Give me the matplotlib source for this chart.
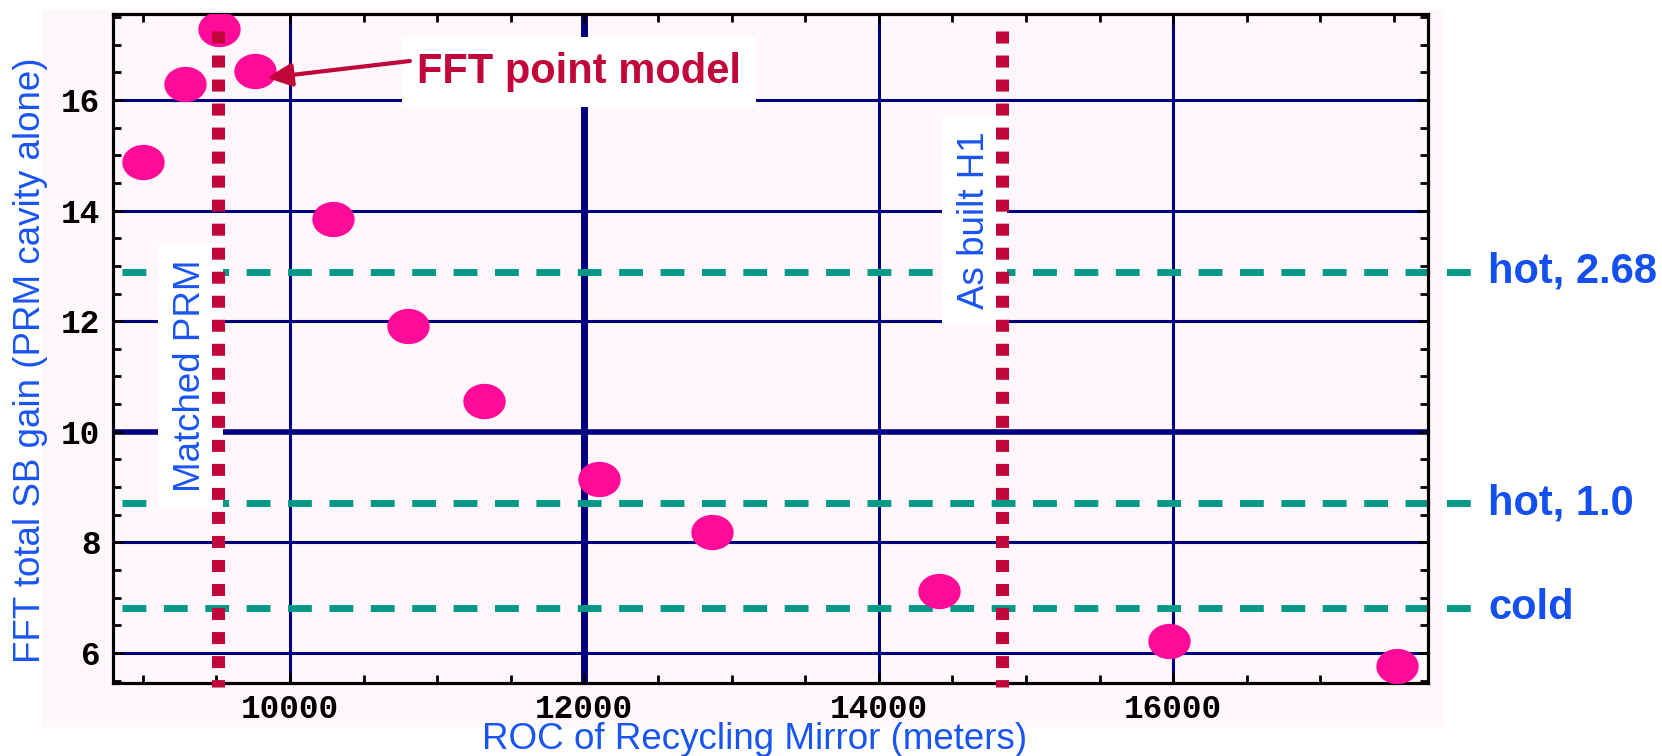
import matplotlib
matplotlib.use('Agg')
import matplotlib.pyplot as plt
import matplotlib.transforms as mtransforms
from matplotlib.path import Path
from matplotlib.patches import Rectangle
from matplotlib.ticker import MultipleLocator
import numpy as np

# ---------------- data ----------------
roc = [9000, 9290, 9520, 9760, 10290, 10800, 11320, 12100, 12870, 14410, 15970, 17520]
gain = [14.88, 16.29, 17.28, 16.52, 13.85, 11.91, 10.56, 9.15, 8.19, 7.12, 6.22, 5.77]

ref_levels = [12.89, 8.71, 6.81]
ref_labels = ['hot, 2.68', 'hot, 1.0', 'cold']

roc_lines = [9510, 14840]
roc_line_labels = ['Matched PRM', 'As built H1']

xticks = [10000, 12000, 14000, 16000]
xticklabels = ['10000', '12000', '14000', '16000']
yticks = [6, 8, 10, 12, 14, 16]
yticklabels = ['6', '8', '10', '12', '14', '16']

xlabel = 'ROC of Recycling Mirror (meters)'
ylabel = 'FFT total SB gain (PRM cavity alone)'
note = 'FFT point model'

# ---------------- style ----------------
PINK_BG = '#FFF7FC'
NAVY = '#000080'
TEAL = '#009988'
CRIMSON = '#C0063A'
MAGENTA = '#FF0A99'
BLUE = '#1A55F2'
BLUE_B = '#1450F0'

W, H = 1662, 756
fig = plt.figure(figsize=(W / 100, H / 100), dpi=100)
fig.patch.set_facecolor('white')
bg = Rectangle((42 / W, 1 - 727 / H), 1401 / W, 717 / H,
               transform=fig.transFigure, facecolor=PINK_BG,
               edgecolor='none', zorder=-10)
fig.patches.append(bg)

ax = fig.add_axes([113 / W, 1 - 683 / H, 1315 / W, 669 / H])
ax.set_zorder(1)
ax.set_facecolor(PINK_BG)
ax.set_xlim(8798, 17731)
ax.set_ylim(5.457, 17.555)

ax.set_axisbelow(True)
ax.set_xticks(xticks, labels=xticklabels, fontfamily='Liberation Mono',
              fontweight='bold', fontsize=23.5)
ax.set_yticks(yticks, labels=yticklabels, fontfamily='Liberation Mono',
              fontweight='bold', fontsize=23.5)
ax.xaxis.set_minor_locator(MultipleLocator(500))
ax.yaxis.set_minor_locator(MultipleLocator(0.5))
ax.tick_params(which='both', direction='in', top=True, right=True,
               color='black', width=2)
ax.tick_params(which='major', length=7.5)
ax.tick_params(which='minor', length=5.5)
ax.tick_params(axis='x', which='major', pad=8)
ax.tick_params(axis='y', which='major', pad=9)
ax.grid(True, which='major', color=NAVY, lw=2.2)
for s in ax.spines.values():
    s.set_linewidth(2.3)
    s.set_color('black')

# emphasized grid lines
ax.axvline(xticks[1], color=NAVY, lw=5, zorder=0.4)
ax.axhline(yticks[2], color=NAVY, lw=4, zorder=0.4)

# horizontal reference levels
blend = mtransforms.blended_transform_factory(ax.transAxes, ax.transData)
for lvl, lab in zip(ref_levels, ref_labels):
    ax.plot([0.0068, 1.0365], [lvl, lvl], transform=blend, color=TEAL, lw=5,
            dashes=(3.43, 2.53), solid_capstyle='butt', clip_on=False, zorder=2)
    ax.text(1.0456, lvl, lab, transform=blend, ha='left', va='center',
            fontsize=30, fontweight='bold', color=BLUE_B,
            family='Liberation Sans', clip_on=False)

# rotated labels with white boxes
lab_pos = [(9389, 11.01), (14715, 13.83)]
for (lx, ly), lab in zip(lab_pos, roc_line_labels):
    ax.text(lx, ly, lab, rotation=90, rotation_mode='anchor', ha='center',
            va='baseline', fontsize=26.5, color=BLUE, family='Liberation Sans',
            bbox=dict(boxstyle='square,pad=0.42', fc='white', ec='none'),
            zorder=3)

# data points (slightly wide ellipses)
t = np.linspace(0, 2 * np.pi, 65)
ell = Path(np.column_stack([np.cos(t), np.sin(t) / 1.2]), closed=True)
ax.plot(roc, gain, linestyle='none', marker=ell, markersize=30.5,
        color=MAGENTA, markeredgewidth=0, zorder=4)

# vertical dotted lines
for xv in roc_lines:
    ax.plot([xv, xv], [17.25, 5.39], color=CRIMSON, lw=9.4,
            dashes=(0.92, 0.92), dash_capstyle='butt', clip_on=False, zorder=5)

# annotation
ax.text(11963, 16.31, note, ha='center', va='baseline', fontsize=30,
        fontweight='bold', color=CRIMSON, family='Liberation Sans',
        bbox=dict(boxstyle='square,pad=0.36', fc='white', ec='none'), zorder=3)
ax.annotate('', xy=(9844, 16.40), xytext=(10815, 16.705),
            arrowprops=dict(arrowstyle='-|>,head_length=0.75,head_width=0.35',
                            color=CRIMSON, lw=3, shrinkA=0, shrinkB=0,
                            mutation_scale=20), zorder=6)

# axis labels
fig.text(755 / W, 1 - 749 / H, xlabel, ha='center', va='baseline',
         fontsize=26.5, color=BLUE, family='Liberation Sans')
fig.text(40 / W, 1 - 360 / H, ylabel, rotation=90, rotation_mode='anchor',
         ha='center', va='baseline', fontsize=26.5, color=BLUE,
         family='Liberation Sans')

fig.savefig('out.png', dpi=100, facecolor='white')
